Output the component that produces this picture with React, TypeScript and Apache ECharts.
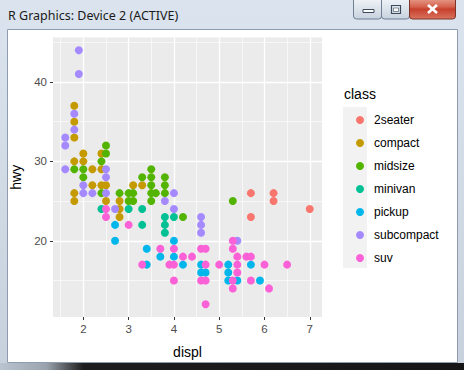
import React, { useEffect, useRef } from "react";
import * as echarts from "echarts";

// ---- data (mpg: displ vs hwy, by class; visible points) ----
const classes = ["2seater", "compact", "midsize", "minivan", "pickup", "subcompact", "suv"];
const classColors = ["#F8766D", "#C49A00", "#53B400", "#00C094", "#00B6EB", "#A58AFF", "#FB61D7"];

const twoSeater = [[5.7, 26], [5.7, 23], [6.2, 26], [6.2, 25], [7.0, 24]];
const compact = [
  [1.8, 37], [1.8, 35], [1.8, 33], [1.8, 30], [1.8, 26], [1.8, 25], [2.0, 31], [2.0, 30],
  [2.2, 29], [2.2, 27], [2.4, 31], [2.4, 29], [2.4, 27], [2.5, 27], [2.5, 25], [2.8, 25],
  [2.8, 24], [2.8, 23], [3.1, 27], [3.3, 27],
];
const midsize = [
  [1.8, 29], [2.0, 29], [2.0, 28], [2.4, 30], [2.4, 26], [2.5, 32], [2.5, 31], [2.8, 26],
  [3.0, 26], [3.0, 25], [3.1, 26], [3.1, 25], [3.3, 28], [3.5, 29], [3.5, 28], [3.5, 27],
  [3.5, 26], [3.5, 25], [3.6, 26], [3.8, 28], [3.8, 27], [3.8, 26], [4.2, 23], [5.3, 25],
];
const minivan = [[2.4, 24], [3.0, 24], [3.3, 24], [3.3, 22], [3.8, 23], [3.8, 22], [3.8, 21], [4.0, 23]];
const pickup = [
  [2.7, 22], [2.7, 20], [3.4, 19], [3.4, 17], [3.7, 18], [4.0, 20], [4.0, 18], [4.2, 17],
  [4.6, 17], [4.6, 16], [4.7, 16], [5.2, 17], [5.2, 16], [5.2, 15], [5.4, 15], [5.7, 17], [5.9, 15],
];
const subcompact = [
  [1.6, 33], [1.6, 32], [1.6, 29], [1.8, 36], [1.8, 34], [1.9, 44], [1.9, 41], [2.0, 27],
  [2.0, 26], [2.2, 26], [2.5, 29], [2.5, 28], [2.5, 26], [2.7, 24], [3.8, 25], [4.0, 26],
  [4.0, 24], [4.6, 23], [4.6, 22], [4.6, 21], [5.4, 20],
];
const suv = [
  [2.5, 24], [2.5, 23], [3.0, 22], [3.3, 17], [3.7, 19], [3.9, 17], [4.0, 19], [4.0, 17],
  [4.0, 15], [4.2, 18], [4.4, 18], [4.6, 19], [4.6, 15], [4.7, 19], [4.7, 17], [4.7, 15],
  [4.7, 12], [5.0, 17], [5.3, 20], [5.3, 19], [5.3, 15], [5.3, 14], [5.4, 18], [5.4, 17],
  [5.4, 16], [5.6, 18], [5.7, 18], [5.7, 15], [6.0, 17], [6.1, 14], [6.5, 17],
];
const classData = [twoSeater, compact, midsize, minivan, pickup, subcompact, suv];

const xMajor = [2, 3, 4, 5, 6, 7];
const xMinor = [1.5, 2.5, 3.5, 4.5, 5.5, 6.5];
const yMajor = [20, 30, 40];
const yMinor = [15, 25, 35, 45];

const FONT = "Liberation Sans, Arial, sans-serif";

export default function App() {
  const ref = useRef<HTMLDivElement>(null);
  useEffect(() => {
    if (!ref.current) return;
    const chart = echarts.init(ref.current, null, { renderer: "svg" });

    const gridLines = [
      ...xMinor.map((v) => ({ xAxis: v, lineStyle: { width: 0.6 } })),
      ...yMinor.map((v) => ({ yAxis: v, lineStyle: { width: 0.6 } })),
      ...xMajor.map((v) => ({ xAxis: v, lineStyle: { width: 1.3 } })),
      ...yMajor.map((v) => ({ yAxis: v, lineStyle: { width: 1.3 } })),
    ];

    const series: any[] = [
      {
        type: "line",
        name: "__grid",
        data: [],
        z: 1,
        silent: true,
        markLine: {
          z: 1,
          silent: true,
          symbol: "none",
          animation: false,
          label: { show: false },
          emphasis: { disabled: true },
          lineStyle: { color: "#FFFFFF", type: "solid" },
          data: gridLines,
        },
      },
      ...classes.map((c, i) => ({
        type: "scatter",
        name: c,
        data: classData[i],
        symbol: "circle",
        symbolSize: 8,
        z: 3,
        itemStyle: { color: classColors[i], opacity: 1 },
        emphasis: { disabled: true },
      })),
    ];

    const btnGrad = new echarts.graphic.LinearGradient(0, 0, 0, 1, [
      { offset: 0, color: "#f4f7fa" },
      { offset: 0.5, color: "#dde4ec" },
      { offset: 1, color: "#c8d2de" },
    ]);

    chart.setOption({
      animation: false,
      textStyle: { fontFamily: FONT },
      grid: {
        left: 53,
        top: 37.5,
        width: 269,
        height: 279.5,
        show: true,
        backgroundColor: "#EBEBEB",
        borderWidth: 0,
        containLabel: false,
      },
      xAxis: {
        type: "value",
        min: 1.33,
        max: 7.27,
        name: "displ",
        nameLocation: "middle",
        nameGap: 28,
        nameTextStyle: { color: "#000", fontSize: 14, fontFamily: FONT },
        axisLine: { show: false },
        axisTick: { show: true, length: 3, customValues: xMajor, lineStyle: { color: "#333333", width: 1 } },
        axisLabel: { customValues: xMajor, color: "#4D4D4D", fontSize: 11.5, margin: 6, fontFamily: FONT },
        splitLine: { show: false },
      },
      yAxis: {
        type: "value",
        min: 10.4,
        max: 45.6,
        name: "hwy",
        nameLocation: "middle",
        nameGap: 30,
        nameRotate: 90,
        nameTextStyle: { color: "#000", fontSize: 14, fontFamily: FONT },
        axisLine: { show: false },
        axisTick: { show: true, length: 3, customValues: yMajor, lineStyle: { color: "#333333", width: 1 } },
        axisLabel: { customValues: yMajor, color: "#4D4D4D", fontSize: 11.5, margin: 6, fontFamily: FONT },
        splitLine: { show: false },
      },
      legend: {
        data: classes,
        orient: "vertical",
        left: 351,
        top: 108,
        itemWidth: 8,
        itemHeight: 8,
        itemGap: 9,
        icon: "circle",
        selectedMode: false,
        textStyle: { fontSize: 12, color: "#000", lineHeight: 14, padding: [0, 0, 0, 5], fontFamily: FONT },
      },
      graphic: [
        // window frame
        {
          type: "rect",
          z: -20,
          shape: { x: 0, y: 0, width: 464, height: 370 },
          style: {
            fill: new echarts.graphic.LinearGradient(0, 0, 0, 1, [
              { offset: 0, color: "#dbe4ee" },
              { offset: 1, color: "#c6d1dd" },
            ]),
          },
        },
        {
          type: "rect",
          z: -19,
          shape: { x: 0, y: 363, width: 464, height: 7 },
          style: {
            fill: new echarts.graphic.LinearGradient(0, 0, 1, 0, [
              { offset: 0, color: "#b9c4d0" },
              { offset: 0.1, color: "#9aa3ad" },
              { offset: 0.18, color: "#1d1d1d" },
              { offset: 1, color: "#161616" },
            ]),
          },
        },
        {
          type: "rect",
          z: -18,
          shape: { x: 7.5, y: 29.5, width: 450, height: 333 },
          style: { fill: "#FFFFFF", stroke: "#8e9cad", lineWidth: 1 },
        },
        {
          type: "text",
          z: -17,
          x: 8,
          y: 15,
          style: {
            text: "R Graphics: Device 2 (ACTIVE)",
            fontFamily: "Noto Sans, Open Sans, sans-serif",
            fontSize: 12.5,
            fill: "#1a1a1a",
            verticalAlign: "middle",
            align: "left",
          },
        },
        // title buttons
        {
          type: "rect",
          z: -17,
          shape: { x: 353.5, y: -3, width: 28, height: 22, r: 3 },
          style: { fill: btnGrad, stroke: "#6f7f94", lineWidth: 1 },
        },
        {
          type: "rect",
          z: -16,
          shape: { x: 363, y: 9.5, width: 11, height: 3 },
          style: { fill: "#ffffff", stroke: "#3c4a5c", lineWidth: 1 },
        },
        {
          type: "rect",
          z: -17,
          shape: { x: 381.5, y: -3, width: 28, height: 22, r: 3 },
          style: { fill: btnGrad, stroke: "#6f7f94", lineWidth: 1 },
        },
        {
          type: "rect",
          z: -16,
          shape: { x: 391.5, y: 5.5, width: 9, height: 8 },
          style: { fill: "none", stroke: "#3c4a5c", lineWidth: 1.2 },
        },
        {
          type: "rect",
          z: -16,
          shape: { x: 393.5, y: 8, width: 5, height: 3.5 },
          style: { fill: "#ffffff", stroke: "#3c4a5c", lineWidth: 0.6 },
        },
        {
          type: "rect",
          z: -17,
          shape: { x: 409.5, y: -3, width: 46, height: 22, r: 3 },
          style: {
            fill: new echarts.graphic.LinearGradient(0, 0, 0, 1, [
              { offset: 0, color: "#e9a896" },
              { offset: 0.45, color: "#d5614d" },
              { offset: 0.55, color: "#c7402c" },
              { offset: 1, color: "#d9735f" },
            ]),
            stroke: "#7d3428",
            lineWidth: 1,
          },
        },
        {
          type: "line",
          z: -16,
          shape: { x1: 428, y1: 5, x2: 437, y2: 13 },
          style: { stroke: "#ffffff", lineWidth: 2.6 },
        },
        {
          type: "line",
          z: -16,
          shape: { x1: 437, y1: 5, x2: 428, y2: 13 },
          style: { stroke: "#ffffff", lineWidth: 2.6 },
        },
        // legend key background and title
        {
          type: "rect",
          z: -5,
          shape: { x: 343, y: 107, width: 24, height: 161 },
          style: { fill: "#F2F2F2" },
        },
        {
          type: "text",
          z: 5,
          x: 344,
          y: 94,
          style: {
            text: "class",
            fontFamily: FONT,
            fontSize: 14,
            fill: "#000",
            verticalAlign: "middle",
            align: "left",
          },
        },
      ],
      series,
    });
    return () => chart.dispose();
  }, []);
  return (
    <div
      ref={ref}
      style={{ position: "absolute", left: 0, top: 0, width: 464, height: 370 }}
    />
  );
}
